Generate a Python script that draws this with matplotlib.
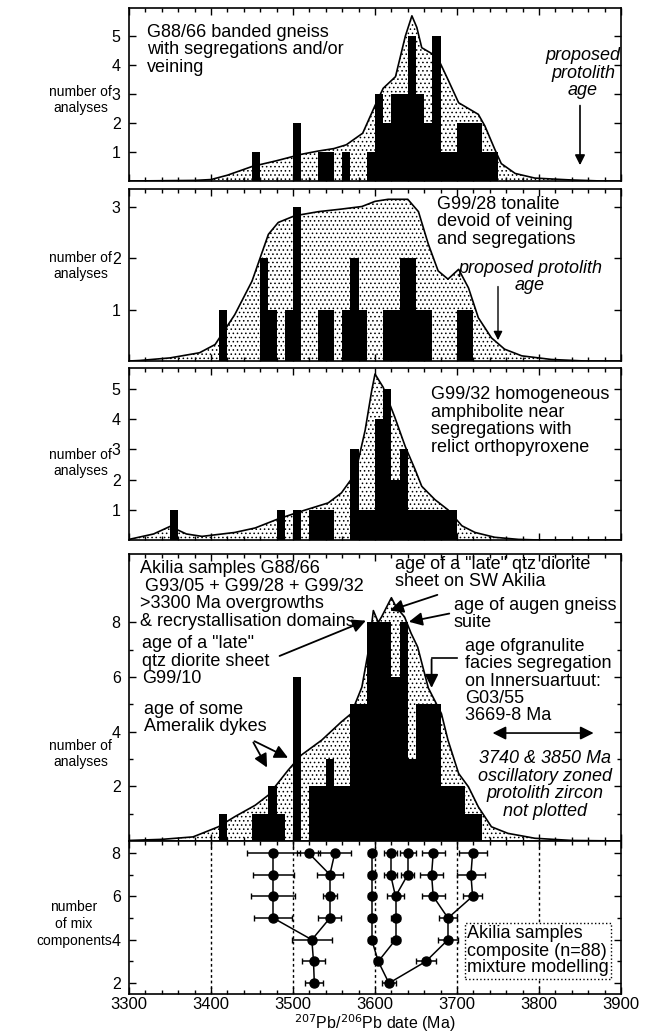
import numpy as np
import matplotlib
matplotlib.use("Agg")
import matplotlib.pyplot as plt
from matplotlib.ticker import MultipleLocator, FixedLocator

plt.rcParams["font.family"] = ["Liberation Sans", "DejaVu Sans"]
plt.rcParams["font.size"] = 13
plt.rcParams["hatch.linewidth"] = 0.6
plt.rcParams["hatch.color"] = "black"

W, H = 647, 1035
BIN = 10  # Ma

# ---- panel 1: G88/66 ----
p1_bins = [3450, 3500, 3530, 3540, 3560, 3590, 3600, 3610, 3620, 3630, 3640, 3650,
           3660, 3670, 3680, 3690, 3700, 3710, 3720, 3730, 3740]
p1_counts = [1, 2, 1, 1, 1, 1, 3, 2, 3, 3, 5, 3, 2, 5, 1, 1, 2, 2, 2, 1, 1]
p1_curve_age = [3300, 3380, 3400, 3420, 3450, 3480, 3510, 3530, 3550, 3565, 3585, 3600,
                3610, 3625, 3637, 3645, 3651, 3657, 3669, 3679, 3689, 3702, 3714, 3726,
                3734, 3746, 3754, 3771, 3795, 3836, 3876, 3900]
p1_curve_n = [0, 0.02, 0.05, 0.2, 0.5, 0.7, 0.92, 1.03, 1.12, 1.25, 1.65, 2.6,
              3.2, 3.6, 5.0, 5.7, 5.3, 4.6, 4.4, 4.1, 3.5, 2.7, 2.5, 2.3,
              1.9, 1.1, 0.6, 0.26, 0.1, 0.04, 0, 0]

# ---- panel 2: G99/28 ----
p2_bins = [3410, 3460, 3470, 3490, 3500, 3530, 3540, 3560, 3570, 3580, 3610, 3620,
           3630, 3640, 3650, 3660, 3700, 3710]
p2_counts = [1, 2, 1, 1, 3, 1, 1, 1, 2, 1, 1, 1, 2, 2, 1, 1, 1, 1]
p2_curve_age = [3300, 3313, 3350, 3386, 3405, 3429, 3450, 3470, 3482, 3502, 3531, 3559,
                3584, 3600, 3616, 3640, 3653, 3665, 3677, 3689, 3702, 3714, 3726, 3742,
                3758, 3779, 3815, 3856, 3900]
p2_curve_n = [0, 0.01, 0.06, 0.16, 0.32, 0.9, 1.55, 2.46, 2.69, 2.82, 2.9, 2.95,
              3.0, 3.1, 3.14, 3.14, 2.9, 2.27, 1.75, 1.59, 1.78, 1.42, 0.84, 0.45,
              0.23, 0.1, 0.03, 0, 0]

# ---- panel 3: G99/32 ----
p3_bins = [3350, 3480, 3500, 3520, 3530, 3540, 3570, 3580, 3590, 3600, 3610, 3620,
           3630, 3640, 3650, 3660, 3670, 3680, 3690]
p3_counts = [1, 1, 1, 1, 1, 1, 3, 1, 1, 4, 5, 2, 3, 1, 1, 1, 1, 1, 1]
p3_curve_age = [3300, 3330, 3350, 3370, 3389, 3429, 3454, 3482, 3511, 3543, 3559, 3576,
                3588, 3596, 3600, 3610, 3624, 3637, 3649, 3657, 3673, 3689, 3706, 3722,
                3746, 3775, 3800, 3900]
p3_curve_n = [0.02, 0.2, 0.45, 0.2, 0.12, 0.25, 0.4, 0.7, 0.96, 1.23, 1.56, 2.2,
              3.64, 4.95, 5.5, 5.06, 4.08, 3.09, 2.33, 1.78, 1.34, 1.0, 0.47, 0.25,
              0.09, 0.02, 0, 0]

# ---- panel 4: composite ----
p4_bins = [3410, 3450, 3460, 3470, 3480, 3500, 3520, 3530, 3540, 3550, 3560, 3570,
           3580, 3590, 3600, 3610, 3620, 3630, 3640, 3650, 3660, 3670, 3680, 3690,
           3700, 3710, 3720]
p4_counts = [1, 1, 1, 2, 1, 6, 2, 2, 3, 2, 2, 5, 5, 8, 8, 8, 6, 8, 3, 5, 5, 5, 2, 2, 2, 1, 1]
p4_curve_age = [3300, 3340, 3378, 3389, 3409, 3429, 3454, 3470, 3494, 3510, 3535, 3559,
                3571, 3584, 3592, 3598, 3604, 3608, 3620, 3626, 3636, 3644, 3652, 3665,
                3681, 3689, 3702, 3714, 3726, 3742, 3762, 3795, 3840, 3900]
p4_curve_n = [0.02, 0.06, 0.15, 0.28, 0.52, 0.89, 1.31, 1.68, 2.59, 3.14, 3.69, 4.36,
              4.66, 5.63, 6.97, 8.43, 8.0, 8.2, 8.9, 8.55, 8.2, 7.6, 7.1, 5.6,
              4.66, 3.69, 2.47, 1.98, 1.25, 0.52, 0.28, 0.1, 0.02, 0.0]

# ---- panel 5: mixture modelling (components, age, 1 sigma, parent index) ----
mix_k = [2, 2,
         3, 3, 3,
         4, 4, 4, 4,
         5, 5, 5, 5, 5,
         6, 6, 6, 6, 6, 6,
         7, 7, 7, 7, 7, 7, 7,
         8, 8, 8, 8, 8, 8, 8, 8]
mix_age = [3526, 3617,
           3525, 3604, 3662,
           3523, 3596, 3625, 3689,
           3476, 3545, 3596, 3625, 3689,
           3476, 3545, 3596, 3625, 3671, 3719,
           3476, 3545, 3596, 3619, 3640, 3669, 3717,
           3476, 3519, 3551, 3596, 3619, 3640, 3671, 3719]
mix_err = [11, 9,
           14, 5, 12,
           24, 5, 6, 12,
           23, 14, 5, 6, 11,
           27, 9, 5, 10, 14, 12,
           25, 16, 5, 8, 8, 14, 17,
           32, 14, 20, 5, 8, 10, 14, 17]
mix_parent = [None, None,
              0, 1, 1,
              2, 3, 3, 4,
              5, 5, 6, 7, 8,
              9, 10, 11, 12, 13, 13,
              14, 15, 16, 17, 17, 18, 19,
              20, 21, 21, 22, 23, 24, 25, 26]
ref_lines = [3400, 3500, 3600, 3700, 3800]
x_ticks = [3300, 3400, 3500, 3600, 3700, 3800, 3900]

protolith_age_1 = 3850
protolith_age_2 = 3750
granulite_age = 3669


def fx(x):
    return x / W


def fy(y):
    return 1 - y / H


def panel(top, bottom):
    return [fx(129), fy(bottom), fx(621) - fx(129), fy(top) - fy(bottom)]


def style_axis(ax, ymin, ymax, yticks, yminor=None, xlabels=False):
    ax.set_xlim(3300, 3900)
    ax.set_ylim(ymin, ymax)
    ax.xaxis.set_major_locator(MultipleLocator(100))
    ax.xaxis.set_minor_locator(MultipleLocator(20))
    ax.yaxis.set_major_locator(FixedLocator(yticks))
    if yminor:
        ax.yaxis.set_minor_locator(FixedLocator(yminor))
    ax.tick_params(which="both", direction="in", top=True, right=True, width=1)
    ax.tick_params(which="major", length=5)
    ax.tick_params(which="minor", length=3)
    ax.tick_params(axis="y", labelsize=11.5, pad=6)
    ax.tick_params(axis="x", labelsize=12, labelbottom=xlabels)
    for s in ax.spines.values():
        s.set_linewidth(1.2)


def histo(ax, bins, counts, cage, cn):
    ax.fill_between(cage, cn, 0, facecolor="white", edgecolor="black",
                    hatch="....", linewidth=0, zorder=1)
    ax.plot(cage, cn, color="black", lw=1.2, zorder=2)
    ax.bar(bins, counts, width=BIN, align="edge", color="black", zorder=3)


fig = plt.figure(figsize=(W / 100, H / 100), dpi=100)

ax1 = fig.add_axes(panel(8, 181))
ax2 = fig.add_axes(panel(189, 361))
ax3 = fig.add_axes(panel(368, 540))
ax4 = fig.add_axes(panel(554, 841))
ax5 = fig.add_axes(panel(841, 994))

histo(ax1, p1_bins, p1_counts, p1_curve_age, p1_curve_n)
style_axis(ax1, 0, 5.97, [1, 2, 3, 4, 5])
histo(ax2, p2_bins, p2_counts, p2_curve_age, p2_curve_n)
style_axis(ax2, 0, 3.34, [1, 2, 3])
histo(ax3, p3_bins, p3_counts, p3_curve_age, p3_curve_n)
style_axis(ax3, 0, 5.7, [1, 2, 3, 4, 5])
histo(ax4, p4_bins, p4_counts, p4_curve_age, p4_curve_n)
style_axis(ax4, 0, 10.5, [2, 4, 6, 8], [1, 3, 5, 7])

# mixture modelling panel
for xv in ref_lines:
    ax5.axvline(xv, color="black", lw=1, ls=(0, (2, 2)), zorder=0)
for i, p in enumerate(mix_parent):
    if p is not None:
        ax5.plot([mix_age[p], mix_age[i]], [mix_k[p], mix_k[i]], color="black", lw=1.1, zorder=2)
ax5.errorbar(mix_age, mix_k, xerr=mix_err, fmt="o", color="black", ms=6.5,
             elinewidth=1.1, capsize=2.5, capthick=1, zorder=3)
style_axis(ax5, 1.5, 8.55, [2, 4, 6, 8], [3, 5, 7], xlabels=True)
ax5.tick_params(axis="x", pad=2)
ax5.set_xticks(x_ticks)
ax5.set_xticklabels([str(t) for t in x_ticks])
fig.text(fx(375), fy(1029), r"$^{207}$Pb/$^{206}$Pb date (Ma)", ha="center", va="baseline", fontsize=11.5)
fig.text(fx(467), fy(951), "Akilia samples\ncomposite (n=88)\nmixture modelling", ha="left",
         va="center", fontsize=13, linespacing=1.0,
         bbox=dict(boxstyle="square,pad=0.12", facecolor="white", edgecolor="black", ls=":", lw=1))

# y labels
ylab = dict(ha="right", va="center", fontsize=10, linespacing=1.25, multialignment="center")
fig.text(fx(112), fy(100), "number of\nanalyses", **ylab)
fig.text(fx(112), fy(266), "number of\nanalyses", **ylab)
fig.text(fx(112), fy(463), "number of\nanalyses", **ylab)
fig.text(fx(112), fy(754), "number of\nanalyses", **ylab)
fig.text(fx(112), fy(924), "number\nof mix\ncomponents", **ylab)

# panel texts
txt = dict(ha="left", va="center", fontsize=13, linespacing=1.03)
fig.text(fx(147), fy(50), "G88/66 banded gneiss\nwith segregations and/or\nveining", **txt)
fig.text(fx(437), fy(222), "G99/28 tonalite\ndevoid of veining\nand segregations", **txt)
fig.text(fx(431), fy(421), "G99/32 homogeneous\namphibolite near\nsegregations with\nrelict orthopyroxene", **txt)
fig.text(fx(140), fy(595), "Akilia samples G88/66\n G93/05 + G99/28 + G99/32\n>3300 Ma overgrowths\n& recrystallisation domains", **txt)
fig.text(fx(142), fy(661), "age of a \"late\"\nqtz diorite sheet\nG99/10", **txt)
fig.text(fx(144), fy(718), "age of some\nAmeralik dykes", **txt)
fig.text(fx(395), fy(573), "age of a \"late\" qtz diorite\nsheet on SW Akilia", **txt)
fig.text(fx(454), fy(614), "age of augen gneiss\nsuite", **txt)
fig.text(fx(465), fy(681), "age ofgranulite\nfacies segregation\non Innersuartuut:\nG03/55\n3669-8 Ma", **txt)

itxt = dict(ha="center", va="center", fontsize=13, style="italic", linespacing=1.03)
fig.text(fx(583), fy(73), "proposed\nprotolith\nage", **itxt)
fig.text(fx(530), fy(277), "proposed protolith\nage", **itxt)
fig.text(fx(545), fy(785), "3740 & 3850 Ma\noscillatory zoned\nprotolith zircon\nnot plotted", **itxt)

# arrows
thin = dict(arrowstyle="-|>", color="black", lw=1.2, mutation_scale=15)
ax1.annotate("", xy=(protolith_age_1, 0.45), xytext=(protolith_age_1, 2.7), arrowprops=thin)
ax2.annotate("", xy=(protolith_age_2, 0.35), xytext=(protolith_age_2, 1.5),
             arrowprops=dict(arrowstyle="-|>", color="black", lw=1, mutation_scale=13))
fat = dict(arrowstyle="-|>", color="black", lw=1.3, mutation_scale=20)
ax4.annotate("", xy=(3592, 8.1), xytext=(fx(277), fy(657)), textcoords="figure fraction", arrowprops=fat)
ax4.annotate("", xy=(3615, 8.4), xytext=(fx(440), fy(594)), textcoords="figure fraction", arrowprops=fat)
ax4.annotate("", xy=(3638, 8.0), xytext=(fx(452), fy(613)), textcoords="figure fraction", arrowprops=fat)
ax4.annotate("", xy=(3470, 2.6), xytext=(fx(252), fy(740)), textcoords="figure fraction", arrowprops=fat)
ax4.annotate("", xy=(3497, 3.0), xytext=(fx(252), fy(740)), textcoords="figure fraction", arrowprops=fat)
ax4.plot([granulite_age, 3700], [6.7, 6.7], color="black", lw=1.2)
ax4.annotate("", xy=(granulite_age, 5.5), xytext=(granulite_age, 6.75), arrowprops=fat)
ax4.annotate("", xy=(3740, 3.95), xytext=(3870, 3.95),
             arrowprops=dict(arrowstyle="<|-|>", color="black", lw=1.2, mutation_scale=20))

fig.savefig("out.png", dpi=100)
